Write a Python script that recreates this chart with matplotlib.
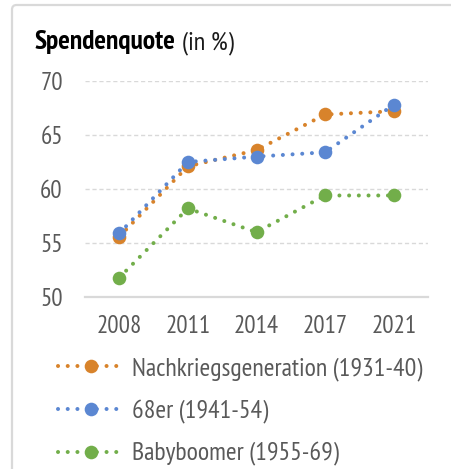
import matplotlib
matplotlib.use("Agg")
import matplotlib.pyplot as plt
from matplotlib import font_manager
from matplotlib.patches import FancyBboxPatch
from matplotlib.lines import Line2D

names = {f.name for f in font_manager.fontManager.ttflist}
FONT = next((n for n in ["PT Sans Narrow", "Fira Sans Condensed", "Asap Condensed", "DejaVu Sans"]
             if n in names), "DejaVu Sans")
plt.rcParams['font.family'] = [FONT, 'DejaVu Sans']

years = ["2008", "2011", "2014", "2017", "2021"]
nachkrieg = [55.6, 62.1, 63.6, 66.9, 67.2]
achtundsechzig = [55.9, 62.5, 63.0, 63.4, 67.8]
babyboomer = [51.8, 58.2, 56.0, 59.4, 59.4]
series_labels = ["Nachkriegsgeneration (1931-40)", "68er (1941-54)", "Babyboomer (1955-69)"]
colors = ["#D8832B", "#5B87D2", "#72AE4A"]
yticks = [50, 55, 60, 65, 70]

W, H = 452, 469
fig = plt.figure(figsize=(W / 100, H / 100), dpi=100)

# frame
frame = FancyBboxPatch((12 / W, -0.2), 1.2, 1.2 - 5 / H,
                       boxstyle="round,pad=0,rounding_size=0.01",
                       transform=fig.transFigure, fill=False,
                       edgecolor="#D9D9D9", linewidth=1.6)
fig.patches.append(frame)

ax = fig.add_axes([85 / W, 1 - 297 / H, (428 - 85) / W, (297 - 81) / H])
x = list(range(len(years)))
for vals, c in zip([nachkrieg, achtundsechzig, babyboomer], colors):
    ax.plot(x, vals, color=c, linewidth=2.9, linestyle=(0, (0.01, 2.4)),
            dash_capstyle='round', marker='o', markersize=9.8,
            markeredgewidth=0, clip_on=False, zorder=3)

ax.set_xlim(-0.5, len(years) - 0.5)
ax.set_ylim(50, 70)
ax.set_yticks(yticks)
ax.set_xticks(x)
ax.set_xticklabels(years)
for s in ["top", "right", "left"]:
    ax.spines[s].set_visible(False)
ax.spines["bottom"].set_color("#D9D9D9")
ax.spines["bottom"].set_linewidth(1.6)
ax.tick_params(axis='both', length=0, labelsize=18, labelcolor="#595959")
ax.tick_params(axis='y', pad=16)
ax.tick_params(axis='x', pad=13)
for yv in yticks[1:]:
    ax.axhline(yv, color="#D9D9D9", linewidth=1.0, linestyle=(0, (3, 2)), zorder=1)

# title
t1 = fig.text(35 / W, 1 - 49 / H, "Spendenquote", fontsize=19.8, fontweight='bold',
              color="#000000", ha='left', va='baseline')
fig.canvas.draw()
bb = t1.get_window_extent()
fig.text((bb.x1 + 6) / W, 1 - 49 / H, "(in %)", fontsize=19, color="#1a1a1a",
         ha='left', va='baseline')

# legend
handles = [Line2D([0], [0], color=c, linewidth=2.9, linestyle=(0, (0.01, 2.4)),
                  dash_capstyle='round', marker='o', markersize=9.8, markeredgewidth=0)
           for c in colors]
leg = fig.legend(handles, series_labels, loc='upper left',
                 bbox_to_anchor=(48 / W, 1 - 347 / H), frameon=False,
                 fontsize=18.6, labelcolor="#595959", handlelength=2.55,
                 handletextpad=0.3, labelspacing=0.72, borderaxespad=0)

fig.savefig("out.png", dpi=100)
